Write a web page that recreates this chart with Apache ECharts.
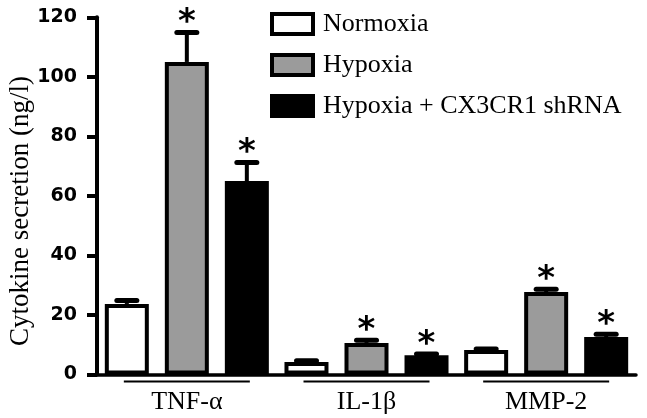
<!DOCTYPE html>
<html>
<head>
<meta charset="utf-8">
<script src="https://cdn.jsdelivr.net/npm/echarts@6/dist/echarts.min.js"></script>
<style>
  html, body { margin: 0; padding: 0; background: #fff; }
  #chart { width: 647px; height: 418px; }
</style>
</head>
<body>
<div id="chart"></div>
<script>
// cytokine secretion, ng/l
const categories = ["TNF-\u03b1", "IL-1\u03b2", "MMP-2"];
const seriesNames = ["Normoxia", "Hypoxia", "Hypoxia + CX3CR1 shRNA"];
const normoxia = [23.7, 4.2, 8.2];
const hypoxia = [105, 10.6, 27.7];
const shrna = [65, 6.5, 12.6];
const normoxiaErr = [1.2, 0.4, 0.4];
const hypoxiaErr = [9.9, 0.9, 0.9];
const shrnaErr = [6.2, 0.4, 0.9];
// significance marks (*) per group
const normoxiaStar = [false, false, false];
const hypoxiaStar = [true, true, true];
const shrnaStar = [true, true, true];
const yTicks = [0, 20, 40, 60, 80, 100, 120];

const SERIF = "'Liberation Serif', 'Times New Roman', serif";
const BAR_W = 44, PITCH = 60;
const fills = ["#ffffff", "#9b9b9b", "#000000"];

const groups = [
  { name: seriesNames[0], vals: normoxia, err: normoxiaErr, star: normoxiaStar },
  { name: seriesNames[1], vals: hypoxia, err: hypoxiaErr, star: hypoxiaStar },
  { name: seriesNames[2], vals: shrna, err: shrnaErr, star: shrnaStar },
];

// stem + cap + optional asterisk, shifted to sit on the k-th bar of the group
function errorRenderer(k) {
  return function (params, api) {
    const ci = api.value(0);
    const base = api.coord([ci, api.value(1)]);
    const top = api.coord([ci, api.value(1) + api.value(2)]);
    const x = base[0] + (k - 1) * PITCH;
    const kids = [
      { type: "line", shape: { x1: x, y1: base[1], x2: x, y2: top[1] },
        style: { stroke: "#000", lineWidth: 4 } },
      { type: "line", shape: { x1: x - 10, y1: top[1], x2: x + 10, y2: top[1] },
        style: { stroke: "#000", lineWidth: 5, lineCap: "round" } },
    ];
    if (api.value(3)) {
      kids.push({ type: "text", x: x, y: top[1] - 9,
        style: { text: "*", fill: "#000", font: "bold 34px 'DejaVu Sans', sans-serif",
                 textAlign: "center", textVerticalAlign: "middle" } });
    }
    return { type: "group", children: kids };
  };
}

const chart = echarts.init(document.getElementById("chart"));

const series = groups.map((g, k) => ({
  name: g.name,
  type: "bar",
  barWidth: BAR_W,
  barGap: "36.4%",
  data: g.vals,
  itemStyle: { color: fills[k], borderColor: "#000", borderWidth: 4 },
  z: 2,
}));

groups.forEach((g, k) => {
  series.push({
    name: g.name + " err",
    type: "custom",
    renderItem: errorRenderer(k),
    encode: { x: 0, y: 1 },
    data: categories.map((c, i) => [i, g.vals[i], g.err[i], g.star[i] ? 1 : 0]),
    clip: false,
    silent: true,
    z: 4,
  });
});

// short rule under each group, above its label
series.push({
  name: "group rule",
  type: "custom",
  renderItem: function (params, api) {
    const p = api.coord([api.value(0), 0]);
    return { type: "line", shape: { x1: p[0] - 63, y1: p[1] + 7, x2: p[0] + 63, y2: p[1] + 7 },
             style: { stroke: "#000", lineWidth: 2 } };
  },
  encode: { x: 0, y: 1 },
  data: categories.map((c, i) => [i, 0]),
  clip: false,
  silent: true,
});

chart.setOption({
  animation: false,
  grid: { left: 97, right: 11, top: 17.3, bottom: 43.5, containLabel: false },
  legend: {
    data: seriesNames,
    orient: "vertical",
    left: 270,
    top: 11,
    padding: 0,
    itemGap: 15,
    itemWidth: 41,
    itemHeight: 20,
    icon: "rect",
    selectedMode: false,
    itemStyle: { borderColor: "#000", borderWidth: 4 },
    textStyle: { fontFamily: SERIF, fontSize: 26, lineHeight: 26, color: "#000", padding: [0, 0, 0, 5] },
  },
  xAxis: {
    type: "category",
    data: categories,
    axisLine: { lineStyle: { color: "#000", width: 3.5 } },
    axisTick: { show: false },
    axisLabel: { color: "#000", fontFamily: SERIF, fontSize: 26, margin: 15 },
  },
  yAxis: {
    type: "value",
    min: yTicks[0],
    max: yTicks[yTicks.length - 1],
    interval: yTicks[1] - yTicks[0],
    splitLine: { show: false },
    axisLine: { show: true, lineStyle: { color: "#000", width: 4 } },
    axisTick: { show: true, length: 10, lineStyle: { color: "#000", width: 4 } },
    axisLabel: { color: "#000", fontFamily: "'DejaVu Sans', sans-serif", fontWeight: "bold", fontSize: 19, margin: 20 },
  },
  graphic: [{
    type: "text",
    x: 21,
    y: 211,
    rotation: Math.PI / 2,
    style: { text: "Cytokine secretion (ng/l)", fill: "#000", font: "27px " + SERIF,
             textAlign: "center", textVerticalAlign: "middle" },
  }],
  series: series,
});
</script>
</body>
</html>
